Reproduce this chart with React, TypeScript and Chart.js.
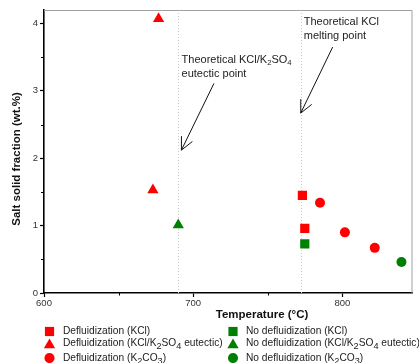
import React, { useEffect, useRef } from 'react';
import { Chart, registerables } from 'chart.js';
Chart.register(...registerables);

const RED = '#ff0000';
const GREEN = '#008000';

// Data (Temperature °C, salt solid fraction wt.%)
const defKClX = [773.2, 774.8];
const defKClY = [1.45, 0.96];
const defEutX = [676.8, 673];
const defEutY = [4.07, 1.53];
const defK2CO3X = [785, 801.7, 821.7];
const defK2CO3Y = [1.34, 0.9, 0.67];
const noKClX = [774.8];
const noKClY = [0.73];
const noEutX = [690];
const noEutY = [1.01];
const noK2CO3X = [839.6];
const noK2CO3Y = [0.46];

const xMajor = [600, 700, 800];
const xMinor = [650, 750];
const yMajor = [0, 1, 2, 3, 4];
const yMinor = [0.5, 1.5, 2.5, 3.5];
const xRange = [600, 847];
const yRange = [0, 4.2];
const refLinesX = [690, 772];

type Seg = { t: string; sub?: boolean };

const legendItems: { segs: Seg[]; color: string; style: string }[] = [
  { segs: [{ t: 'Defluidization (KCl)' }], color: RED, style: 'rect' },
  { segs: [{ t: 'Defluidization (KCl/K' }, { t: '2', sub: true }, { t: 'SO' }, { t: '4', sub: true }, { t: ' eutectic)' }], color: RED, style: 'triangle' },
  { segs: [{ t: 'Defluidization (K' }, { t: '2', sub: true }, { t: 'CO' }, { t: '3', sub: true }, { t: ')' }], color: RED, style: 'circle' },
  { segs: [{ t: 'No defluidization (KCl)' }], color: GREEN, style: 'rect' },
  { segs: [{ t: 'No defluidization (KCl/K' }, { t: '2', sub: true }, { t: 'SO' }, { t: '4', sub: true }, { t: ' eutectic)' }], color: GREEN, style: 'triangle' },
  { segs: [{ t: 'No defluidization (K' }, { t: '2', sub: true }, { t: 'CO' }, { t: '3', sub: true }, { t: ')' }], color: GREEN, style: 'circle' },
];

// annotations in data coordinates
const annotations = [
  {
    lines: [[{ t: 'Theoretical KCl/K' }, { t: '2', sub: true }, { t: 'SO' }, { t: '4', sub: true }], [{ t: 'eutectic point' }]] as Seg[][],
    textX: 692.2, textY: 3.46,
    from: [713.9, 3.11], to: [692.1, 2.12],
  },
  {
    lines: [[{ t: 'Theoretical KCl' }], [{ t: 'melting point' }]] as Seg[][],
    textX: 774.1, textY: 4.02,
    from: [793.5, 3.65], to: [772.1, 2.67],
  },
];

const FONT = '"Liberation Sans", Arial, sans-serif';

function drawRich(ctx: CanvasRenderingContext2D, segs: Seg[], x: number, y: number, size: number, subScale: number, subOff: number, weight = '') {
  let cx = x;
  ctx.textAlign = 'left';
  ctx.textBaseline = 'middle';
  for (const s of segs) {
    if (s.sub) {
      ctx.font = `${weight} ${size * subScale}px ${FONT}`;
      ctx.fillText(s.t, cx, y + subOff);
    } else {
      ctx.font = `${weight} ${size}px ${FONT}`;
      ctx.fillText(s.t, cx, y);
    }
    cx += ctx.measureText(s.t).width;
  }
}

function drawMarker(ctx: CanvasRenderingContext2D, style: string, x: number, y: number, r: number, color: string) {
  ctx.fillStyle = color;
  ctx.beginPath();
  if (style === 'rect') {
    const s = Math.SQRT1_2 * r;
    ctx.rect(x - s, y - s, 2 * s, 2 * s);
  } else if (style === 'triangle') {
    ctx.moveTo(x, y - r);
    ctx.lineTo(x + Math.sin(2 * Math.PI / 3) * r, y + r / 2);
    ctx.lineTo(x - Math.sin(2 * Math.PI / 3) * r, y + r / 2);
    ctx.closePath();
  } else {
    ctx.arc(x, y, r * 0.78, 0, Math.PI * 2);
  }
  ctx.fill();
}

const overlay = {
  id: 'overlay',
  beforeDatasetsDraw(chart: any) {
    const { ctx, chartArea, scales } = chart;
    ctx.save();
    ctx.strokeStyle = '#c8c8c8';
    ctx.lineWidth = 1;
    ctx.setLineDash([1, 2]);
    for (const v of refLinesX) {
      const px = Math.round(scales.x.getPixelForValue(v)) + 0.5;
      ctx.beginPath();
      ctx.moveTo(px, chartArea.top);
      ctx.lineTo(px, chartArea.bottom);
      ctx.stroke();
    }
    ctx.restore();
  },
  afterDraw(chart: any) {
    const { ctx, chartArea, scales } = chart;
    const xs = scales.x, ys = scales.y;
    ctx.save();
    // top/right frame
    ctx.strokeStyle = '#a0a0a0';
    ctx.lineWidth = 1;
    ctx.beginPath();
    ctx.moveTo(chartArea.left, chartArea.top + 0.5);
    ctx.lineTo(chartArea.right - 0.5, chartArea.top + 0.5);
    ctx.lineTo(chartArea.right - 0.5, chartArea.bottom);
    ctx.stroke();
    // minor ticks
    ctx.strokeStyle = '#000';
    ctx.lineWidth = 1;
    for (const v of xMinor) {
      const px = Math.round(xs.getPixelForValue(v)) + 0.5;
      ctx.beginPath();
      ctx.moveTo(px, chartArea.bottom);
      ctx.lineTo(px, chartArea.bottom + 2.5);
      ctx.stroke();
    }
    for (const v of yMinor) {
      const py = Math.round(ys.getPixelForValue(v)) + 0.5;
      ctx.beginPath();
      ctx.moveTo(chartArea.left, py);
      ctx.lineTo(chartArea.left - 3, py);
      ctx.stroke();
    }
    // annotations
    ctx.fillStyle = '#222';
    ctx.strokeStyle = '#111';
    for (const a of annotations) {
      const tx = xs.getPixelForValue(a.textX);
      const ty = ys.getPixelForValue(a.textY);
      a.lines.forEach((ln, i) => drawRich(ctx, ln, tx, ty + i * 14, 11, 0.7, 3));
      const x1 = xs.getPixelForValue(a.from[0]), y1 = ys.getPixelForValue(a.from[1]);
      const x2 = xs.getPixelForValue(a.to[0]), y2 = ys.getPixelForValue(a.to[1]);
      ctx.lineWidth = 1;
      ctx.beginPath();
      ctx.moveTo(x1, y1);
      ctx.lineTo(x2, y2);
      const ang = Math.atan2(y1 - y2, x1 - x2);
      const L = 14, da = 0.45;
      ctx.moveTo(x2 + Math.cos(ang + da) * L, y2 + Math.sin(ang + da) * L);
      ctx.lineTo(x2, y2);
      ctx.lineTo(x2 + Math.cos(ang - da) * L, y2 + Math.sin(ang - da) * L);
      ctx.stroke();
    }
    // axis titles
    ctx.fillStyle = '#111';
    ctx.font = `bold 11.5px ${FONT}`;
    ctx.textAlign = 'center';
    ctx.textBaseline = 'middle';
    ctx.fillText('Temperature (°C)', 262, 315);
    ctx.save();
    ctx.translate(17, 159);
    ctx.rotate(-Math.PI / 2);
    ctx.fillText('Salt solid fraction (wt.%)', 0, 0);
    ctx.restore();
    // legend
    const colX = [[49.5, 63], [233, 246]];
    const rowY = [331.5, 343.5, 358];
    legendItems.forEach((it, i) => {
      const c = Math.floor(i / 3), r = i % 3;
      const my = rowY[r] + (it.style === 'triangle' ? 1.5 : 0);
      drawMarker(ctx, it.style, colX[c][0], my, 6.5, it.color);
      ctx.fillStyle = '#222';
      drawRich(ctx, it.segs, colX[c][1], rowY[r], 10.2, 0.9, 3);
    });
    ctx.restore();
  },
};

const mk = (label: string, xsArr: number[], ysArr: number[], color: string, style: string, radius: number) => ({
  label,
  data: xsArr.map((x, i) => ({ x, y: ysArr[i] })),
  backgroundColor: color,
  borderColor: color,
  borderWidth: 0,
  pointStyle: style,
  pointRadius: radius,
  pointHoverRadius: radius,
});

export default function App() {
  const ref = useRef<HTMLCanvasElement>(null);
  useEffect(() => {
    document.body.style.margin = '0';
    const chart = new Chart(ref.current!, {
      type: 'scatter',
      data: {
        datasets: [
          mk('Defluidization (KCl)', defKClX, defKClY, RED, 'rect', 6.5),
          mk('Defluidization (KCl/K2SO4 eutectic)', defEutX, defEutY, RED, 'triangle', 6.5),
          mk('Defluidization (K2CO3)', defK2CO3X, defK2CO3Y, RED, 'circle', 5),
          mk('No defluidization (KCl)', noKClX, noKClY, GREEN, 'rect', 6.5),
          mk('No defluidization (KCl/K2SO4 eutectic)', noEutX, noEutY, GREEN, 'triangle', 6.5),
          mk('No defluidization (K2CO3)', noK2CO3X, noK2CO3Y, GREEN, 'circle', 5),
        ],
      },
      options: {
        animation: false,
        responsive: true,
        maintainAspectRatio: false,
        layout: { padding: { top: 10, right: 6, left: 0, bottom: 0 } },
        plugins: { legend: { display: false }, tooltip: { enabled: false } },
        scales: {
          x: {
            type: 'linear',
            min: xRange[0],
            max: xRange[1],
            afterBuildTicks: (s: any) => { s.ticks = xMajor.map((v) => ({ value: v })); },
            afterFit: (s: any) => { s.height = 70; },
            ticks: { font: { size: 9.5, family: FONT }, color: '#333', padding: 1, maxRotation: 0 },
            grid: { drawOnChartArea: false, drawTicks: true, tickLength: 4, tickColor: '#000', tickWidth: 1.2 },
            border: { display: true, color: '#000', width: 1.6 },
          },
          y: {
            type: 'linear',
            min: yRange[0],
            max: yRange[1],
            afterBuildTicks: (s: any) => { s.ticks = yMajor.map((v) => ({ value: v })); },
            afterFit: (s: any) => { s.width = 44; },
            ticks: { font: { size: 9.5, family: FONT }, color: '#333', padding: 2 },
            grid: { drawOnChartArea: false, drawTicks: true, tickLength: 4, tickColor: '#000', tickWidth: 1.2 },
            border: { display: true, color: '#000', width: 1.6 },
          },
        },
      },
      plugins: [overlay],
    });
    return () => chart.destroy();
  }, []);
  return (
    <div style={{ position: 'relative', width: 419, height: 363 }}>
      <canvas ref={ref} />
    </div>
  );
}
